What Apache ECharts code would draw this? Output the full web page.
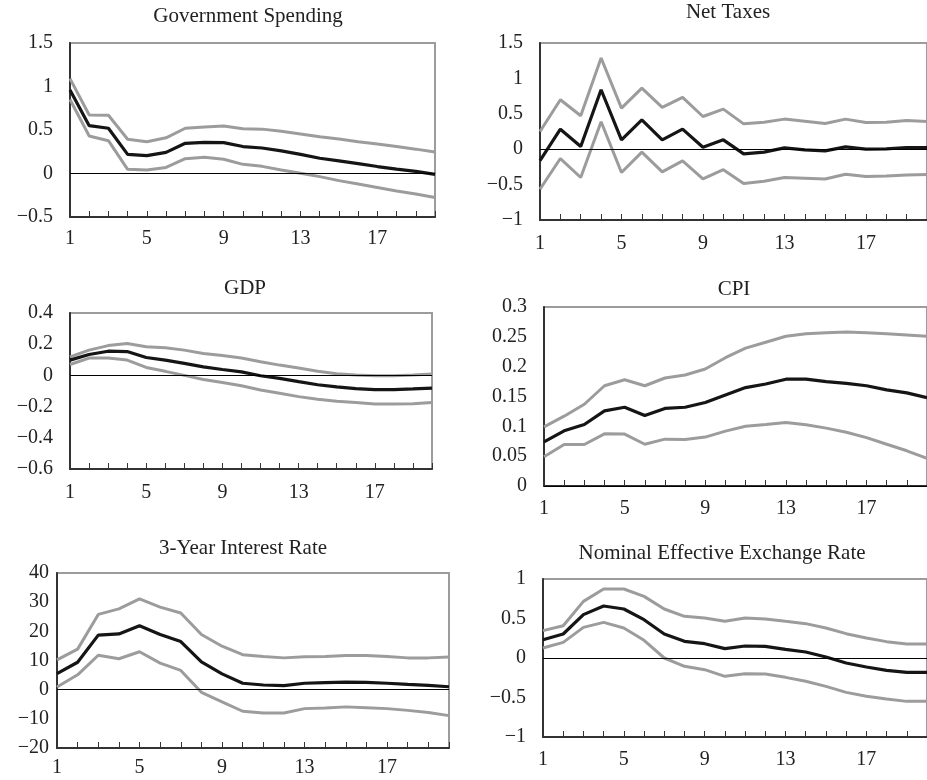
<!DOCTYPE html>
<html>
<head>
<meta charset="utf-8">
<script src="https://cdn.jsdelivr.net/npm/echarts@6/dist/echarts.min.js"></script>
<style>
html,body{margin:0;padding:0;background:#fff;}
#chart{width:927px;height:780px;}
</style>
</head>
<body>
<div id="chart"></div>
<script>
// ---- data ----
const periods = ['1','2','3','4','5','6','7','8','9','10','11','12','13','14','15','16','17','18','19','20'];

const titles = ['Government Spending','Net Taxes','GDP','CPI','3-Year Interest Rate','Nominal Effective Exchange Rate'];

const govMid = [0.96,0.55,0.52,0.22,0.205,0.243,0.347,0.358,0.355,0.31,0.293,0.26,0.22,0.175,0.145,0.113,0.08,0.05,0.025,-0.01];
const govUp  = [1.09,0.672,0.67,0.393,0.366,0.41,0.52,0.535,0.546,0.515,0.51,0.485,0.455,0.423,0.397,0.366,0.34,0.31,0.28,0.247];
const govLo  = [0.85,0.431,0.377,0.048,0.04,0.07,0.17,0.186,0.163,0.105,0.082,0.04,0.002,-0.036,-0.082,-0.12,-0.16,-0.2,-0.235,-0.275];

const taxMid = [-0.16,0.283,0.038,0.84,0.132,0.415,0.132,0.283,0.028,0.132,-0.066,-0.042,0.019,-0.01,-0.024,0.033,0,0.005,0.024,0.024];
const taxUp  = [0.25,0.698,0.472,1.288,0.58,0.863,0.59,0.731,0.462,0.566,0.358,0.382,0.425,0.396,0.363,0.425,0.377,0.382,0.406,0.392];
const taxLo  = [-0.566,-0.132,-0.4,0.387,-0.33,-0.042,-0.32,-0.165,-0.42,-0.29,-0.486,-0.453,-0.4,-0.41,-0.42,-0.354,-0.387,-0.377,-0.363,-0.358];

const gdpMid = [0.098,0.134,0.155,0.153,0.115,0.098,0.077,0.055,0.038,0.023,-0.002,-0.019,-0.04,-0.06,-0.074,-0.085,-0.091,-0.091,-0.087,-0.081];
const gdpUp  = [0.119,0.162,0.191,0.204,0.183,0.177,0.162,0.14,0.128,0.111,0.087,0.066,0.047,0.026,0.011,0.002,-0.002,-0.002,0.002,0.009];
const gdpLo  = [0.07,0.111,0.111,0.098,0.051,0.026,0,-0.026,-0.045,-0.066,-0.094,-0.115,-0.136,-0.153,-0.166,-0.174,-0.183,-0.183,-0.181,-0.174];

const cpiMid = [0.074,0.0925,0.103,0.126,0.132,0.118,0.13,0.132,0.14,0.1525,0.165,0.171,0.179,0.179,0.175,0.172,0.168,0.161,0.156,0.148];
const cpiUp  = [0.099,0.117,0.137,0.168,0.178,0.168,0.181,0.186,0.196,0.215,0.231,0.241,0.251,0.255,0.257,0.258,0.257,0.255,0.253,0.251];
const cpiLo  = [0.049,0.0695,0.0695,0.0874,0.087,0.07,0.0785,0.078,0.082,0.092,0.1,0.103,0.1065,0.1026,0.097,0.09,0.081,0.07,0.059,0.0465];

const irMid = [5.5,9.4,18.7,19.1,21.9,18.9,16.5,9.5,5.4,2.2,1.6,1.4,2.2,2.4,2.6,2.5,2.2,1.8,1.5,1.0];
const irUp  = [10.2,13.9,25.8,27.7,31.1,28.3,26.3,18.9,14.9,12.0,11.4,10.9,11.3,11.4,11.7,11.7,11.4,10.9,10.9,11.2];
const irLo  = [0.9,5.1,11.8,10.6,13.0,9.1,6.6,-0.9,-4.2,-7.4,-8.0,-8.0,-6.5,-6.3,-5.9,-6.2,-6.5,-7.1,-7.8,-8.9];

const neerMid = [0.232,0.304,0.549,0.658,0.62,0.485,0.304,0.211,0.181,0.118,0.152,0.148,0.11,0.076,0.013,-0.063,-0.114,-0.156,-0.181,-0.181];
const neerUp  = [0.346,0.409,0.717,0.873,0.873,0.78,0.62,0.527,0.506,0.464,0.506,0.494,0.464,0.435,0.38,0.308,0.253,0.207,0.177,0.177];
const neerLo  = [0.127,0.198,0.388,0.451,0.38,0.224,0,-0.105,-0.148,-0.232,-0.198,-0.203,-0.245,-0.295,-0.359,-0.435,-0.485,-0.519,-0.549,-0.549];

// y-axis scales: [min, max, interval]
const yScales = [[-0.5,1.5,0.5],[-1,1.5,0.5],[-0.6,0.4,0.2],[0,0.3,0.05],[-20,40,10],[-1,1,0.5]];

// ---- layout ----
const panels = [
  {mid:govMid, up:govUp, lo:govLo, grid:{left:70, top:43, width:365, height:174}, title:[248,16], yMargin:17, xMargin:12},
  {mid:taxMid, up:taxUp, lo:taxLo, grid:{left:540, top:43, width:388, height:177}, title:[728,12], yMargin:17, xMargin:14},
  {mid:gdpMid, up:gdpUp, lo:gdpLo, grid:{left:70, top:313, width:362, height:156}, title:[245,288], yMargin:17, xMargin:14},
  {mid:cpiMid, up:cpiUp, lo:cpiLo, grid:{left:544, top:307, width:386, height:179}, title:[734,289], yMargin:17, xMargin:13},
  {mid:irMid, up:irUp, lo:irLo, grid:{left:57, top:573, width:392, height:175}, title:[243,548], yMargin:8, xMargin:10},
  {mid:neerMid, up:neerUp, lo:neerLo, grid:{left:543, top:579, width:388, height:158}, title:[722,553], yMargin:17, xMargin:13}
];

const FONT = '"Liberation Serif","Times New Roman",serif';
const GRAY = '#9c9c9c';
const BLACK = '#151515';
const AXIS = '#333333';

function fmt(v){
  const s = String(Math.round(v*1000)/1000);
  return s.charAt(0)==='-' ? '\u2212'+s.slice(1) : s;
}

const grid=[], xAxis=[], yAxis=[], series=[], graphic=[];
panels.forEach((p,i)=>{
  grid.push(Object.assign({show:true, borderColor:GRAY, borderWidth:2, backgroundColor:'transparent'}, p.grid));
  xAxis.push({
    type:'category', gridIndex:i, data:periods, boundaryGap:false,
    axisLine:{onZero:false, lineStyle:{color:AXIS, width:2}},
    axisTick:{show:true, inside:true, length:6, interval:0, lineStyle:{color:AXIS, width:1}},
    axisLabel:{interval:3, color:'#222', fontFamily:FONT, fontSize:20, margin:p.xMargin},
    splitLine:{show:false}
  });
  const ys = yScales[i];
  yAxis.push({
    type:'value', gridIndex:i, min:ys[0], max:ys[1], interval:ys[2],
    axisLine:{show:true, lineStyle:{color:AXIS, width:2}},
    axisTick:{show:false},
    axisLabel:{color:'#222', fontFamily:FONT, fontSize:20, margin:p.yMargin, formatter:fmt},
    splitLine:{show:false}
  });
  const common = {type:'line', xAxisIndex:i, yAxisIndex:i, symbol:'none', silent:true, animation:false};
  series.push(Object.assign({}, common, {data:p.up, lineStyle:{color:GRAY, width:3}, z:3,
    markLine:{silent:true, symbol:'none', label:{show:false}, animation:false,
      lineStyle:{color:'#000', width:1, type:'solid'}, data:[{yAxis:0}]}}));
  series.push(Object.assign({}, common, {data:p.lo, lineStyle:{color:GRAY, width:3}, z:3}));
  series.push(Object.assign({}, common, {data:p.mid, lineStyle:{color:BLACK, width:3.2}, z:4}));
  graphic.push({type:'text', x:p.title[0], y:p.title[1], silent:true,
    style:{text:titles[i], font:'21px '+FONT, fill:'#222', textAlign:'center', textVerticalAlign:'middle'}});
});

const chart = echarts.init(document.getElementById('chart'), null, {renderer:'canvas'});
chart.setOption({animation:false, grid, xAxis, yAxis, series, graphic});
</script>
</body>
</html>
